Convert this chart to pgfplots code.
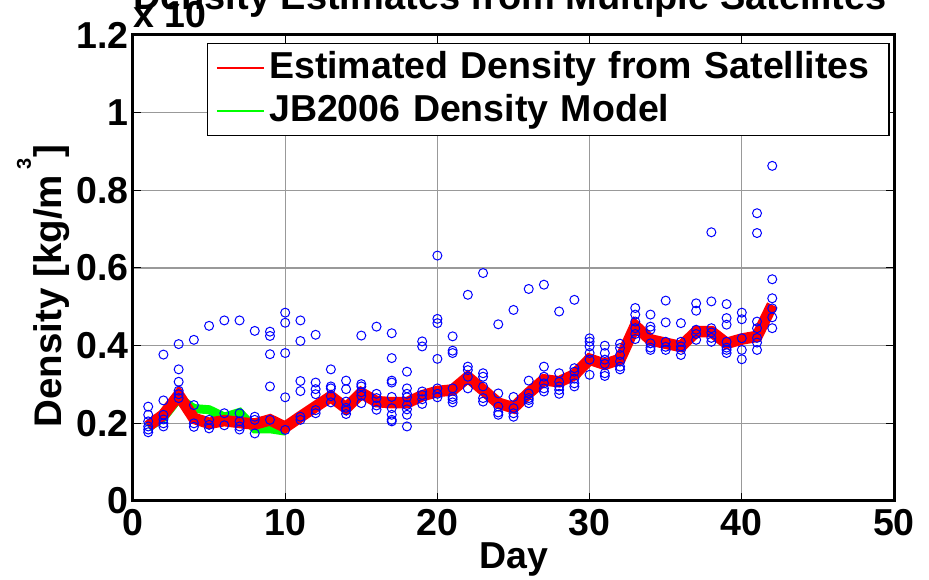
\documentclass[border=0pt]{standalone}
\usepackage{fontspec}
\setmainfont{Liberation Sans}
\usepackage{pgfplots}
\usepackage{pgfplotstable}
\pgfplotsset{compat=1.18}

% Individual satellite density estimates (units of 1e-12 kg/m^3)
\pgfplotstableread{
day rho
1 0.243
1 0.222
1 0.205
1 0.192
1 0.184
1 0.177
2 0.377
2 0.259
2 0.222
2 0.210
2 0.200
2 0.192
3 0.404
3 0.339
3 0.307
3 0.284
3 0.275
3 0.265
4 0.415
4 0.247
4 0.200
4 0.191
5 0.451
5 0.209
5 0.196
5 0.187
6 0.465
6 0.226
6 0.195
7 0.465
7 0.226
7 0.205
7 0.192
7 0.184
8 0.438
8 0.217
8 0.209
8 0.174
9 0.436
9 0.425
9 0.378
9 0.295
9 0.209
10 0.485
10 0.459
10 0.381
10 0.267
10 0.183
11 0.465
11 0.412
11 0.309
11 0.283
11 0.217
11 0.209
12 0.428
12 0.305
12 0.288
12 0.275
12 0.234
12 0.226
13 0.339
13 0.295
13 0.290
13 0.270
13 0.254
14 0.310
14 0.288
14 0.256
14 0.240
14 0.233
14 0.224
15 0.426
15 0.301
15 0.295
15 0.280
15 0.271
15 0.252
16 0.449
16 0.276
16 0.265
16 0.246
16 0.235
17 0.432
17 0.368
17 0.310
17 0.305
17 0.268
17 0.239
17 0.222
17 0.209
17 0.205
18 0.333
18 0.290
18 0.276
18 0.267
18 0.247
18 0.236
18 0.222
18 0.192
19 0.411
19 0.398
19 0.282
19 0.273
19 0.262
19 0.250
20 0.632
20 0.469
20 0.458
20 0.366
20 0.290
20 0.276
20 0.267
21 0.424
21 0.387
21 0.381
21 0.290
21 0.268
21 0.262
21 0.254
22 0.531
22 0.346
22 0.337
22 0.320
22 0.290
23 0.587
23 0.329
23 0.320
23 0.295
23 0.265
23 0.256
24 0.455
24 0.277
24 0.243
24 0.228
24 0.222
25 0.492
25 0.268
25 0.239
25 0.226
25 0.217
26 0.546
26 0.310
26 0.277
26 0.265
26 0.260
26 0.252
27 0.557
27 0.346
27 0.320
27 0.303
27 0.290
27 0.282
28 0.488
28 0.329
28 0.307
28 0.295
28 0.286
28 0.276
29 0.518
29 0.342
29 0.333
29 0.315
29 0.303
29 0.295
30 0.419
30 0.410
30 0.398
30 0.381
30 0.364
30 0.325
31 0.400
31 0.381
31 0.364
31 0.353
31 0.329
31 0.322
32 0.405
32 0.394
32 0.376
32 0.359
32 0.346
32 0.339
33 0.497
33 0.480
33 0.462
33 0.445
33 0.430
33 0.417
34 0.480
34 0.449
34 0.441
34 0.406
34 0.395
34 0.389
35 0.516
35 0.460
35 0.410
35 0.397
35 0.389
36 0.458
36 0.410
36 0.398
36 0.389
36 0.376
37 0.509
37 0.490
37 0.441
37 0.430
37 0.415
38 0.692
38 0.514
38 0.445
38 0.434
38 0.420
38 0.410
39 0.507
39 0.471
39 0.454
39 0.410
39 0.395
39 0.389
39 0.381
40 0.485
40 0.468
40 0.419
40 0.389
40 0.365
41 0.741
41 0.690
41 0.462
41 0.445
41 0.420
41 0.408
41 0.389
42 0.863
42 0.571
42 0.522
42 0.496
42 0.473
42 0.445
}\satdata

% Combined estimate from all satellites
\pgfplotstableread{
day rho
1 0.193
2 0.222
3 0.273
4 0.213
5 0.200
6 0.207
7 0.202
8 0.198
9 0.209
10 0.190
11 0.217
12 0.243
13 0.269
14 0.239
15 0.278
16 0.256
17 0.253
18 0.253
19 0.271
20 0.282
21 0.286
22 0.319
23 0.286
24 0.252
25 0.240
26 0.278
27 0.312
28 0.307
29 0.325
30 0.365
31 0.352
32 0.365
33 0.451
34 0.415
35 0.406
36 0.398
37 0.436
38 0.436
39 0.406
40 0.417
41 0.424
42 0.505
}\estdata

% JB2006 model density
\pgfplotstableread{
day rho
1 0.190
2 0.215
3 0.265
4 0.238
5 0.235
6 0.216
7 0.228
8 0.186
9 0.186
10 0.180
}\jbdata

\definecolor{mred}{RGB}{255,0,0}
\definecolor{mgreen}{RGB}{0,255,0}
\definecolor{mblue}{RGB}{0,0,255}

% thin line samples in the legend, independent of the plotted line width
\pgfplotsset{
  redleg/.style={legend image code/.code={\draw[mred, line width=2.5pt] (0pt,0pt) -- (47pt,0pt);}},
  greenleg/.style={legend image code/.code={\draw[mgreen, line width=2.5pt] (0pt,0pt) -- (47pt,0pt);}},
}
\newcommand{\bigbf}{\fontsize{37.5}{42}\selectfont\bfseries}
% high, small superscript
\newcommand{\hisup}[1]{\hspace{5pt}\raisebox{31pt}{\fontsize{20}{22}\selectfont\bfseries #1}}

\begin{document}
\bigbf
\begin{tikzpicture}
\begin{axis}[
  scale only axis, width=761pt, height=466pt,
  xmin=0, xmax=50, ymin=0, ymax=1.2,
  xtick={0,10,20,30,40,50},
  ytick={0,0.2,0.4,0.6,0.8,1,1.2},
  /pgf/number format/assume math mode=true,
  ticklabel style={font=\bigbf},
  xticklabel style={inner sep=8pt},
  yticklabel style={inner sep=4pt},
  tick align=inside, major tick length=8pt,
  tick style={black, line width=1pt},
  axis line style={black, line width=3pt},
  grid=major,
  major grid style={black!40, line width=1.2pt},
  xlabel={Day},
  xlabel style={font=\bigbf, at={(axis description cs:0.5,0)}, anchor=base, yshift=-68pt},
  ylabel={Density [kg/m\hisup{3}\hspace{1pt}]},
  ylabel style={font=\fontsize{38.5}{42}\selectfont\bfseries,
    at={(axis description cs:0,0.461)}, anchor=base, yshift=71pt},
  legend style={at={(rel axis cs:0.9947,0.983)}, anchor=north east,
    draw=black, line width=1.5pt, fill=white,
    font=\bigbf,
    inner xsep=8pt, inner ysep=3pt,
    nodes={inner xsep=4pt, inner ysep=5pt, text width=608pt}},
  legend cell align=left,
  reverse legend,
]
\addplot[only marks, mark=o, mark size=4.5pt, mblue, mark options={line width=1pt}, forget plot]
  table[x=day, y=rho] {\satdata};
\addplot[mgreen, line width=9pt, greenleg]
  table[x=day, y=rho] {\jbdata};
\addlegendentry{JB2006 Density Model}
\addplot[mred, line width=11.5pt, redleg]
  table[x=day, y=rho] {\estdata};
\addlegendentry{Estimated Density from Satellites}
\coordinate (BL) at (rel axis cs:0,0);
\end{axis}
% exponent of the y axis and the title, above the plot box
\node[anchor=base west, inner sep=0pt] at ([shift={(0pt,473pt)}]BL) {x 10\hisup{-12}};
\node[anchor=base, inner sep=0pt, font=\fontsize{38}{42}\selectfont\bfseries]
  at ([shift={(377pt,491pt)}]BL) {Density Estimates from Multiple Satellites};
\pgfresetboundingbox
\path[use as bounding box] ([shift={(-133pt,-79pt)}]BL) rectangle ([shift={(796pt,501pt)}]BL);
\end{tikzpicture}
\end{document}
